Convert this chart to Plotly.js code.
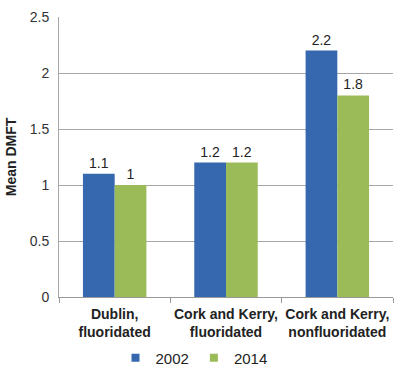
<!DOCTYPE html>
<html><head><meta charset="utf-8">
<script src="https://cdn.plot.ly/plotly-3.0.1.min.js"></script>
<style>html,body{margin:0;padding:0;background:#fff;}#chart{width:400px;height:373px;}</style>
</head><body><div id="chart"></div>
<script>
const categories = ["Dublin,<br>fluoridated", "Cork and Kerry,<br>fluoridated", "Cork and Kerry,<br>nonfluoridated"];
const series2002 = [1.1, 1.2, 2.2];
const series2014 = [1.0, 1.2, 1.8];
const seriesNames = ["2002", "2014"];
const seriesColors = ["#3568AE", "#9BBB59"];
const yTicks = [0, 0.5, 1, 1.5, 2, 2.5];

const font = {family: "Liberation Sans, Arial, sans-serif", size: 14, color: "#222"};
const barTrace = (name, vals, color) => ({
  type: "bar", name: name, x: categories, y: vals, showlegend: false,
  text: vals.map(String), textposition: "outside", cliponaxis: false,
  textfont: {size: 14, color: "#222"},
  marker: {color: color, line: {width: 0}}
});
const legendTrace = (name, color) => ({
  type: "scatter", mode: "markers", name: name, x: [null], y: [null],
  marker: {symbol: "square", size: 8, color: color}
});
const traces = [
  barTrace(seriesNames[0], series2002, seriesColors[0]),
  barTrace(seriesNames[1], series2014, seriesColors[1]),
  legendTrace(seriesNames[0], seriesColors[0]),
  legendTrace(seriesNames[1], seriesColors[1])
];
const layout = {
  width: 400, height: 373,
  margin: {l: 59, r: 7, t: 17, b: 76},
  font: font,
  paper_bgcolor: "#fff", plot_bgcolor: "#fff",
  barmode: "group", bargap: 0.43, bargroupgap: 0,
  showlegend: true,
  legend: {orientation: "h", x: 0.485, xref: "container", xanchor: "center",
           y: 0.04, yref: "container", yanchor: "middle",
           font: {size: 15, color: "#222"}, itemwidth: 30, tracegroupgap: 0,
           traceorder: "normal"},
  xaxis: {type: "category", showgrid: false, showline: true, linecolor: "#999", linewidth: 1,
          ticks: "outside", ticklen: 5, tickcolor: "#999", tickson: "boundaries",
          tickangle: 0, ticklabelstandoff: 4,
          tickfont: {size: 14, color: "#222", weight: "bold"}, fixedrange: true},
  yaxis: {range: [0, 2.5], tickvals: yTicks, ticktext: yTicks.map(String),
          showgrid: true, gridcolor: "#A6A6A6", gridwidth: 1, showline: true, linecolor: "#A6A6A6",
          zeroline: false, ticks: "", ticklabelstandoff: 6, tickfont: {size: 14, color: "#333"},
          title: {text: "Mean DMFT", font: {size: 14, color: "#222", weight: "bold"}, standoff: 9},
          fixedrange: true}
};
Plotly.newPlot("chart", traces, layout, {staticPlot: true, displayModeBar: false});
</script></body></html>
